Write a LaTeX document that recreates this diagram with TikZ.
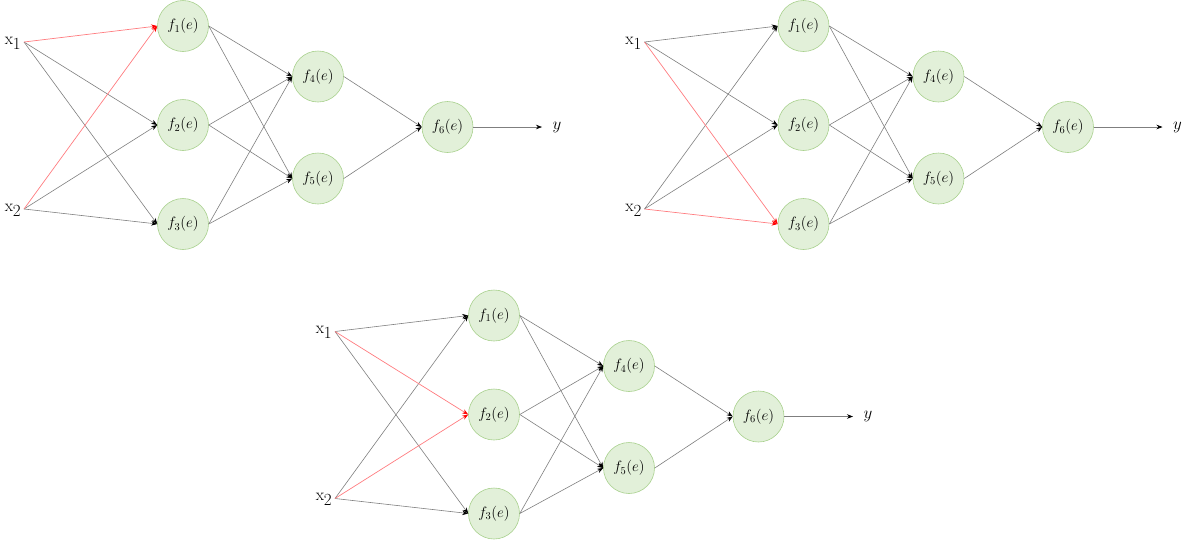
\RequirePackage{fix-cm}
\documentclass[tikz,border=0pt]{standalone}
\usetikzlibrary{arrows.meta}
\definecolor{nfill}{HTML}{E2F0D9}
\definecolor{ndraw}{HTML}{A9D18E}
\definecolor{egray}{HTML}{7F7F7F}
\definecolor{ered}{HTML}{FF7C80}
\definecolor{hred}{HTML}{FF0000}
\tikzset{
  neuron/.style={circle,draw=ndraw,fill=nfill,line width=0.6pt,minimum size=51pt,inner sep=0pt,font=\fontsize{15}{18}\selectfont},
  inlabel/.style={anchor=east,inner sep=0pt,font=\fontsize{17}{20}\selectfont},
  outlabel/.style={inner sep=0pt,font=\fontsize{17}{20}\selectfont},
  edge/.style={draw=egray,line width=0.6pt,-{Stealth[length=6pt,width=4.5pt,black]}},
  redge/.style={draw=ered,line width=0.7pt,-{Stealth[length=6pt,width=4.5pt,hred]}},
}
\newcommand\nnpanel[4]{%
\begin{scope}[shift={(#2,#3)}]
  \node[neuron] (#1f1) at (183,26) {$f_1(e)$};
  \node[neuron] (#1f2) at (183,125) {$f_2(e)$};
  \node[neuron] (#1f3) at (183,224) {$f_3(e)$};
  \node[neuron] (#1f4) at (318,76.5) {$f_4(e)$};
  \node[neuron] (#1f5) at (318,178.5) {$f_5(e)$};
  \node[neuron] (#1f6) at (447.5,127) {$f_6(e)$};
  \coordinate (#1x1) at (24,42);
  \coordinate (#1x2) at (24,209);
  \node[inlabel] (#1l1) at (21,43) {x\raisebox{-5pt}{1}};
  \node[inlabel] (#1l2) at (21,210) {x\raisebox{-5pt}{2}};
  \coordinate (#1yend) at (542,127);
  \node[outlabel] (#1y) at (557,127) {$y$};
  \foreach \i in {1,2,3} {
    \ifnum\i=#4\relax\else
      \draw[edge] (#1x1) -- (#1f\i.west);
      \draw[edge] (#1x2) -- (#1f\i.west);
    \fi
  }
  \foreach \i in {1,2,3} {
    \draw[edge] (#1f\i.east) -- (#1f4.west);
    \draw[edge] (#1f\i.east) -- (#1f5.west);
  }
  \draw[edge] (#1f4.east) -- (#1f6.west);
  \draw[edge] (#1f5.east) -- (#1f6.west);
  \draw[edge] (#1f6.east) -- (#1yend);
  \draw[redge] (#1x1) -- (#1f#4.west);
  \draw[redge] (#1x2) -- (#1f#4.west);
\end{scope}}
\begin{document}
\begin{tikzpicture}[x=1pt,y=-1pt]
  \useasboundingbox (0,0) rectangle (1192,539);
  \nnpanel{a}{0}{0}{1}
  \nnpanel{b}{620.5}{0}{3}
  \nnpanel{c}{311}{289.5}{2}
\end{tikzpicture}
\end{document}
